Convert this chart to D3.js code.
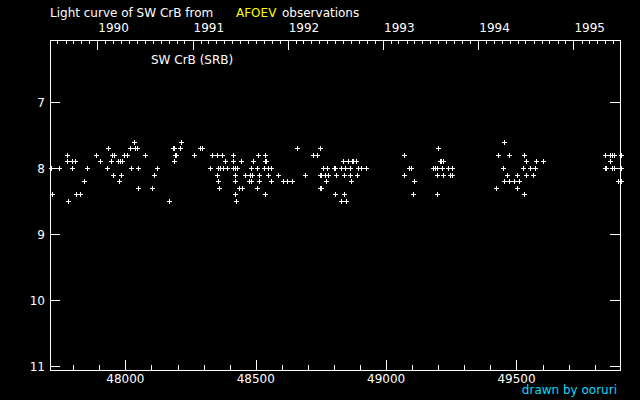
<!DOCTYPE html>
<html>
<head>
<meta charset="utf-8">
<script src="https://cdn.jsdelivr.net/npm/d3@7"></script>
<style>
  html, body { margin: 0; background: #000; }
  svg { display: block; }
  text { font-family: "DejaVu Sans", sans-serif; font-size: 12px; fill: #fff; }
</style>
</head>
<body>
<svg id="chart" width="640" height="400"></svg>
<script>
// visual estimates of SW CrB, dates are JD - 2400000, grouped by magnitude
const levels = [7.6, 7.7, 7.8, 7.9, 8.0, 8.1, 8.2, 8.3, 8.4, 8.5];
const jdAt76 = [48033, 48214, 49453];
const jdAt77 = [47934, 48018, 48037, 48045, 48184, 48187, 48210, 48287, 48294, 48659, 48747, 49200];
const jdAt78 = [47776, 47888, 47949, 47958, 47995, 48005, 48076, 48191, 48194, 48264, 48333, 48352, 48371,
                48413, 48509, 48536, 48720, 48735, 49069, 49430, 49472, 49529, 49840, 49859, 49867, 49875, 49902];
const jdAt79 = [47776, 47796, 47805, 47903, 47945, 47972, 47980, 47987, 48187, 48382, 48413, 48444, 48490,
                48534, 48538, 48835, 48854, 48868, 48872, 48885, 49207, 49211, 49219, 49537, 49575, 49602, 49859];
const jdAt80 = [47716, 47746, 47796, 47853, 47930, 48022, 48049, 48122, 48325, 48356, 48363, 48375, 48390,
                48413, 48421, 48428, 48482, 48505, 48532, 48547, 48559, 48758, 48774, 48799, 48803, 48827,
                48843, 48862, 48893, 48902, 48923, 49088, 49096, 49180, 49188, 49196, 49215, 49238, 49253,
                49449, 49526, 49552, 49572, 49840, 49844, 49867, 49875, 49902];
const jdAt81 = [47953, 47984, 48110, 48352, 48421, 48459, 48478, 48486, 48513, 48547, 48586, 48689, 48745,
                48749, 48766, 48778, 48808, 48839, 48862, 48889, 49069, 49196, 49219, 49246, 49253, 49464,
                49503, 49537, 49564];
const jdAt82 = [47842, 47976, 48356, 48421, 48476, 48480, 48513, 48559, 48605, 48620, 48640, 48770, 48866,
                49108, 49453, 49472, 49491, 49510, 49890, 49902];
const jdAt83 = [48049, 48103, 48359, 48436, 48448, 48505, 48745, 48749, 49422, 49503];
const jdAt84 = [47719, 47811, 47826, 48421, 48536, 48804, 48839, 49104, 49196, 49529];
const jdAt85 = [47780, 48168, 48425, 48827, 48847];
const jdByLevel = [jdAt76, jdAt77, jdAt78, jdAt79, jdAt80, jdAt81, jdAt82, jdAt83, jdAt84, jdAt85];

const magTicks = [7, 8, 9, 10, 11];
const jdLabelTicks = [48000, 48500, 49000, 49500];

//flatten into point records
let points = [];
levels.forEach((m, i) => {
    jdByLevel[i].forEach((jd) => points.push({jd: jd, mag: m}));
});

const svg = d3.select("#chart");
const plotLeft = 50, plotRight = 620, plotTop = 40, plotBottom = 370;

svg.append("rect").attr("width", 640).attr("height", 400).attr("fill", "#000");

const x = d3.scaleLinear().domain([47711, 49897]).range([plotLeft, plotRight]);
const y = d3.scaleLinear().domain([6.06, 11.06]).range([plotTop, plotBottom]);

//calendar scale for the top axis, same pixel range
const jdToDate = (jd) => new Date((jd + 2400000 - 2440587.5) * 864e5);
const t = d3.scaleUtc().domain(x.domain().map(jdToDate)).range([plotLeft, plotRight]);

const px = (v) => Math.round(v) + 0.5;

//frame
svg.append("rect")
    .attr("x", plotLeft + 0.5).attr("y", plotTop + 0.5)
    .attr("width", plotRight - plotLeft).attr("height", plotBottom - plotTop)
    .attr("fill", "none").attr("stroke", "#fff").attr("stroke-width", 1)
    .attr("shape-rendering", "crispEdges");

const ticks = svg.append("g").attr("stroke", "#fff").attr("stroke-width", 1)
    .attr("shape-rendering", "crispEdges");

//bottom axis: JD, minor every 100 days
x.ticks(20).forEach((d) => {
    let major = d % 500 === 0;
    ticks.append("line")
        .attr("x1", px(x(d))).attr("x2", px(x(d)))
        .attr("y1", plotBottom).attr("y2", plotBottom - (major ? 10 : 5));
});
svg.selectAll(".jdlabel").data(jdLabelTicks).enter().append("text")
    .attr("class", "jdlabel")
    .attr("x", (d) => x(d)).attr("y", 383)
    .attr("text-anchor", "middle")
    .text((d) => d);

//top axis: months and years
d3.utcMonth.range(t.domain()[0], t.domain()[1]).forEach((d) => {
    let major = d.getUTCMonth() === 0;
    ticks.append("line")
        .attr("x1", px(t(d))).attr("x2", px(t(d)))
        .attr("y1", plotTop).attr("y2", plotTop + (major ? 10 : 4));
});
svg.selectAll(".year").data(d3.utcYear.range(t.domain()[0], t.domain()[1])).enter().append("text")
    .attr("class", "year")
    .attr("x", (d) => t(d) + 1).attr("y", 32)
    .text((d) => d.getUTCFullYear());

//magnitude axis, left with labels and mirrored right
magTicks.forEach((m) => {
    ticks.append("line").attr("x1", plotLeft).attr("x2", plotLeft + 10)
        .attr("y1", px(y(m))).attr("y2", px(y(m)));
    ticks.append("line").attr("x1", plotRight).attr("x2", plotRight - 10)
        .attr("y1", px(y(m))).attr("y2", px(y(m)));
});
svg.selectAll(".maglabel").data(magTicks).enter().append("text")
    .attr("class", "maglabel")
    .attr("x", 45).attr("y", (d) => y(d) + 4.5)
    .attr("text-anchor", "end")
    .text((d) => d);

//observations as small crosses
svg.append("g").selectAll("path").data(points).enter().append("path")
    .attr("d", (d) => {
        let cx = px(x(d.jd)), cy = px(y(d.mag));
        return "M" + (cx - 2.5) + "," + cy + "H" + (cx + 2.5) + "M" + cx + "," + (cy - 2.5) + "V" + (cy + 2.5);
    })
    .attr("stroke", "#fff").attr("stroke-width", 1).attr("fill", "none")
    .attr("shape-rendering", "crispEdges");

//titles
svg.append("text").attr("x", 50).attr("y", 17).text("Light curve of SW CrB from");
svg.append("text").attr("x", 236).attr("y", 17).style("fill", "#ffff00").text("AFOEV");
svg.append("text").attr("x", 282).attr("y", 17).text("observations");
svg.append("text").attr("x", 151).attr("y", 64).text("SW CrB (SRB)");
svg.append("text").attr("x", 617).attr("y", 394).attr("text-anchor", "end")
    .style("fill", "#00dcff").text("drawn by ooruri");
</script>
</body>
</html>
